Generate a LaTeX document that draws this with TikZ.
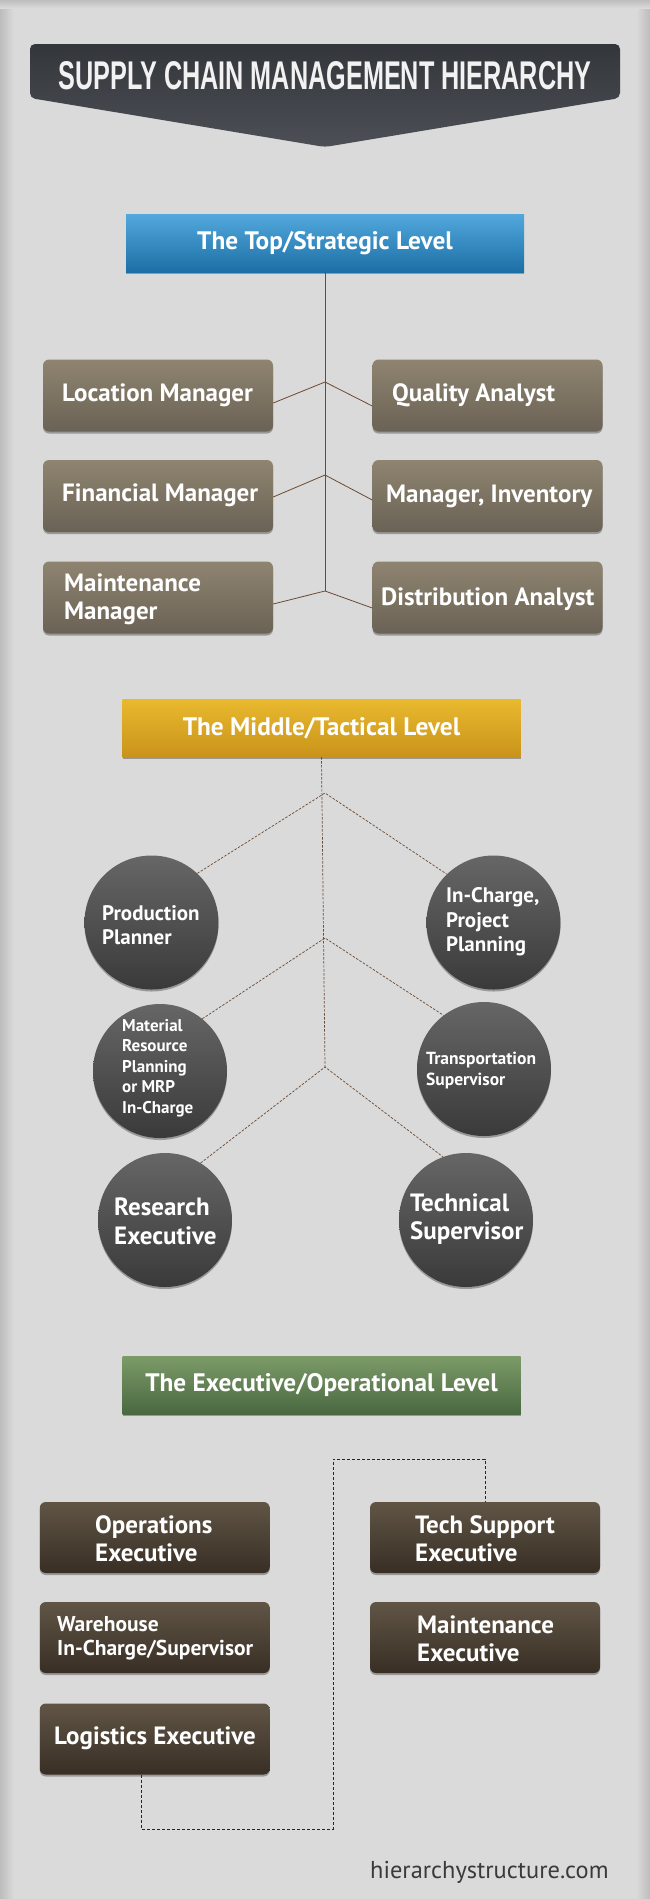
\documentclass[tikz,border=0pt]{standalone}
\usepackage{graphicx}
\usepackage{fontspec}
\setmainfont{PT Sans}
\newfontfamily\titlefont{Liberation Sans}
\usetikzlibrary{calc,shadows}
\definecolor{bgcol}{HTML}{DADADA}
\definecolor{bgedge}{HTML}{BDBDBD}
\definecolor{tbtop}{HTML}{8F8470}
\definecolor{tbbot}{HTML}{6A6255}
\definecolor{cirtop}{HTML}{666666}
\definecolor{cirbot}{HTML}{3A3A3A}
\definecolor{bbtop}{HTML}{605545}
\definecolor{bbbot}{HTML}{382E25}
\definecolor{bluetop}{HTML}{52A8DC}
\definecolor{bluebot}{HTML}{1C6FA6}
\definecolor{yeltop}{HTML}{E9B92F}
\definecolor{yelbot}{HTML}{C9931A}
\definecolor{grntop}{HTML}{7C9B68}
\definecolor{grnbot}{HTML}{4A6841}
\definecolor{brn}{HTML}{6B4A33}
\definecolor{bantop}{HTML}{33363B}
\definecolor{banbot}{HTML}{4C5056}
\definecolor{webcol}{HTML}{3A3A3A}
\tikzset{
  shd/.style={drop shadow={shadow xshift=0pt,shadow yshift=-2pt,opacity=0.3,fill=black}},
  level/.style={minimum width=398pt,minimum height=58pt,inner sep=0pt,text=white,
    font=\bfseries\fontsize{25.3}{29}\selectfont,shd},
  topbox/.style={rounded corners=6pt,top color=tbtop,bottom color=tbbot,
    minimum width=230pt,minimum height=72pt,inner sep=0pt,shd},
  botbox/.style={rounded corners=6pt,top color=bbtop,bottom color=bbbot,
    minimum width=230pt,minimum height=71pt,inner sep=0pt,shd},
  circ/.style={circle,top color=cirtop,bottom color=cirbot,minimum size=134pt,inner sep=0pt,shd},
  lbl/.style={anchor=west,inner sep=0pt,text=white,align=left,font=\bfseries\fontsize{25}{28}\selectfont},
  solidline/.style={draw=brn,line width=0.8pt},
  brdash/.style={draw=brn,line width=0.7pt,dash pattern=on 2.5pt off 1.5pt},
  blkdash/.style={draw=black!85,line width=0.8pt,dash pattern=on 3pt off 2pt},
}
\begin{document}
\begin{tikzpicture}[x=1pt,y=-1pt]
\useasboundingbox (0,0) rectangle (650,1899);
% background
\fill[bgcol] (0,0) rectangle (650,1899);
\shade[left color=bgedge,right color=bgcol] (0,0) rectangle (14,1899);
\shade[left color=bgcol,right color=bgedge] (636,0) rectangle (650,1899);
\shade[top color=bgedge,bottom color=bgcol] (0,0) rectangle (650,8);
% banner
\path[rounded corners=5pt,top color=bantop,bottom color=banbot]
  (30,98) -- (30,44) -- (620,44) -- (620,98) -- (325,147) -- cycle;
\node[inner sep=0pt,text=white!95!black] (title) at (325,76)
  {\resizebox{533pt}{28pt}{\titlefont\bfseries SUPPLY CHAIN MANAGEMENT HIERARCHY}};

% ---------- top level ----------
\node[level,top color=bluetop,bottom color=bluebot] (top) at (325,243) {The Top/Strategic Level};
\node[topbox] (lm) at (158,395.5) {};
\node[topbox] (fm) at (158,496) {};
\node[topbox] (mm) at (158,597.5) {};
\node[topbox] (qa) at (487.5,395.5) {};
\node[topbox] (mi) at (487.5,496) {};
\node[topbox] (da) at (487.5,597.5) {};
\node[lbl] (tlm) at (62,395) {Location Manager};
\node[lbl] (tfm) at (62,495) {Financial Manager};
\node[lbl] (tmm) at (64,599) {Maintenance\\Manager};
\node[lbl] (tqa) at (392,395) {Quality Analyst};
\node[lbl] (tmi) at (386,496.5) {Manager, Inventory};
\node[lbl] (tda) at (381,599) {Distribution Analyst};
\coordinate (tj1) at (325,382);
\coordinate (tj2) at (325,475);
\coordinate (tj3) at (325,591);
\draw[solidline] (top.south) -- (tj3);
\draw[solidline] ([yshift=-7.5pt]lm.east) -- (tj1) -- ([yshift=-10.5pt]qa.west);
\draw[solidline] ([yshift=-1pt]fm.east) -- (tj2) -- ([yshift=-4pt]mi.west);
\draw[solidline] ([yshift=-6.5pt]mm.east) -- (tj3) -- ([yshift=-10.5pt]da.west);

% ---------- middle level ----------
\node[level,top color=yeltop,bottom color=yelbot] (mid) at (321.5,728) {The Middle/Tactical Level};
\node[circ] (pp) at (151.5,922.5) {};
\node[circ] (ic) at (493.5,922.5) {};
\node[circ] (mat) at (160,1071) {};
\node[circ] (tr) at (484,1069) {};
\node[circ] (re) at (165,1220) {};
\node[circ] (tsu) at (466,1220) {};
\node[lbl,font=\bfseries\fontsize{21}{24}\selectfont] (tpp) at (102,925) {Production\\Planner};
\node[lbl,font=\bfseries\fontsize{21}{24.5}\selectfont] (tic) at (446,922) {In-Charge,\\Project\\Planning};
\node[lbl,font=\bfseries\fontsize{17}{20.5}\selectfont] (tmat) at (122,1068) {Material\\Resource\\Planning\\or MRP\\In-Charge};
\node[lbl,font=\bfseries\fontsize{17.5}{21}\selectfont] (ttr) at (426,1071) {Transportation\\Supervisor};
\node[lbl,font=\bfseries\fontsize{25}{29}\selectfont] (tre) at (114,1221) {Research\\Executive};
\node[lbl,font=\bfseries\fontsize{25}{28}\selectfont] (ttsu) at (410,1219) {Technical\\Supervisor};
\coordinate (mj1) at (325,793);
\coordinate (mj2) at (325,938);
\coordinate (mj3) at (325,1067);
\draw[brdash] (mid.south) -- (mj3);
\draw[brdash] (pp.47) -- (mj1) -- (ic.134);
\draw[brdash] (mat.51) -- (mj2) -- (tr.127);
\draw[brdash] (re.58) -- (mj3) -- (tsu.110);

% ---------- executive level ----------
\node[level,top color=grntop,bottom color=grnbot] (exe) at (321.5,1385) {The Executive/Operational Level};
\node[botbox] (oe) at (154.75,1537.5) {};
\node[botbox] (wh) at (154.75,1637.5) {};
\node[botbox] (le) at (154.75,1739) {};
\node[botbox] (tse) at (485,1537.5) {};
\node[botbox] (me) at (485,1637.5) {};
\node[lbl] (toe) at (95,1539) {Operations\\Executive};
\node[lbl,font=\bfseries\fontsize{21.5}{24}\selectfont] (twh) at (57,1638) {Warehouse\\In-Charge/Supervisor};
\node[lbl] (tle) at (54,1738) {Logistics Executive};
\node[lbl] (ttse) at (415,1539) {Tech Support\\Executive};
\node[lbl] (tme) at (417,1639) {Maintenance\\Executive};
\coordinate (d1) at (333,1829);
\coordinate (d2) at (333,1459);
\draw[blkdash] ([xshift=-13pt]le.south) |- (d1) -- (d2) -| (tse.north);

\node[anchor=base west,inner sep=0pt,text=webcol,font=\fontsize{24.4}{28}\selectfont] (web) at (370,1878) {hierarchystructure.com};
\end{tikzpicture}
\end{document}
